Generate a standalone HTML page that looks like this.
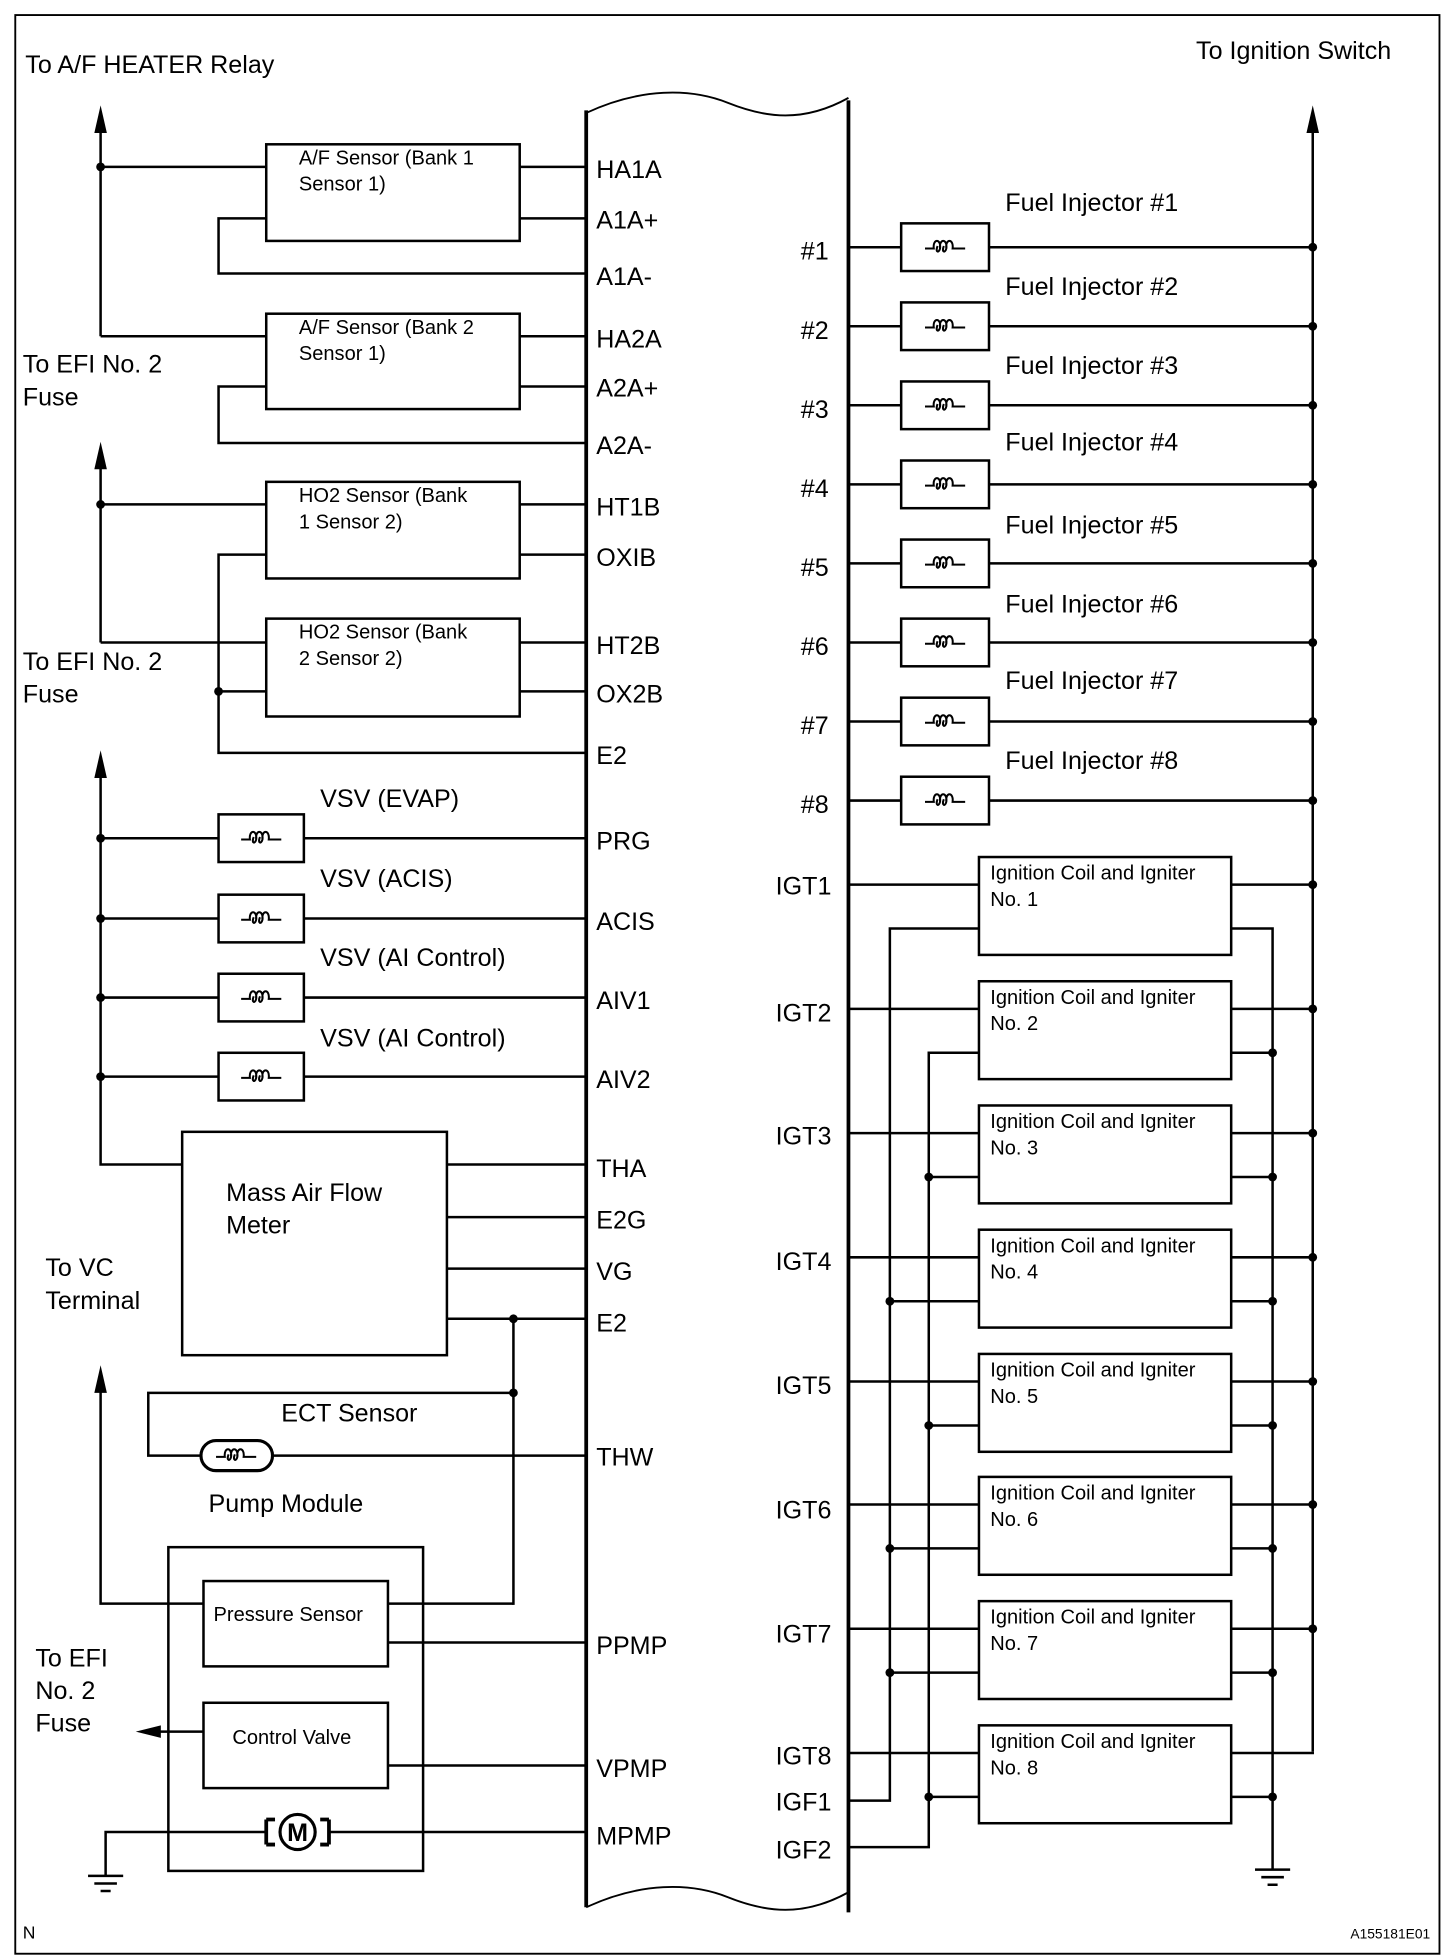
<!DOCTYPE html>
<html><head><meta charset="utf-8"><style>
html,body{margin:0;padding:0;background:#fff}
svg{display:block}
text{font-family:"Liberation Sans",Arial,sans-serif;fill:#000}
.p{font-size:20px}
.s{font-size:16px}
</style></head><body>
<svg width="1456" height="1960" viewBox="0 0 1160 1562" xmlns="http://www.w3.org/2000/svg">
<defs>
<symbol id="c" overflow="visible"><path d="M-16,1 H-9 C-10,-7 -3,-7 -4,1 C-5,5 -8,4 -6,-1 M-4,1 C-5,-7 2,-7 1,1 C0,5 -3,4 -1,-1 M1,1 C0,-7 7,-7 6,1 H16" fill="none" stroke="#000" stroke-width="1.6"/></symbol>
</defs>
<g fill="none" stroke="#000" stroke-width="2">
<rect x="12" y="12" width="1135" height="1545" stroke-width="1.5"/>
<line x1="467" y1="88" x2="467" y2="1520" stroke-width="3"/>
<line x1="676" y1="80" x2="676" y2="1524" stroke-width="3"/>
<path d="M467,90 C510,70 550,70 580,82 S640,98 676,78" stroke-width="1.5"/>
<path d="M467,1520 C510,1500 550,1500 580,1512 S640,1528 676,1508" stroke-width="1.5"/>

<line x1="80" y1="100" x2="80" y2="268"/>
<rect x="212" y="115" width="202" height="77"/>
<line x1="80" y1="133" x2="212" y2="133"/><line x1="414" y1="133" x2="467" y2="133"/>
<line x1="414" y1="174" x2="467" y2="174"/>
<path d="M212,174 H174 V218 H467"/>
<rect x="212" y="250" width="202" height="76"/>
<line x1="80" y1="268" x2="212" y2="268"/><line x1="414" y1="268" x2="467" y2="268"/>
<line x1="414" y1="308" x2="467" y2="308"/>
<path d="M212,308 H174 V353 H467"/>

<line x1="80" y1="368" x2="80" y2="512"/>
<rect x="212" y="384" width="202" height="77"/>
<line x1="80" y1="402" x2="212" y2="402"/><line x1="414" y1="402" x2="467" y2="402"/>
<line x1="414" y1="442" x2="467" y2="442"/>
<path d="M212,442 H174 V600 H467"/>
<rect x="212" y="493" width="202" height="78"/>
<line x1="80" y1="512" x2="212" y2="512"/><line x1="414" y1="512" x2="467" y2="512"/>
<line x1="174" y1="551" x2="212" y2="551"/><line x1="414" y1="551" x2="467" y2="551"/>

<path d="M80,615 V928 H145"/>
<line x1="80" y1="668" x2="467" y2="668"/>
<line x1="80" y1="732" x2="467" y2="732"/>
<line x1="80" y1="795" x2="467" y2="795"/>
<line x1="80" y1="858" x2="467" y2="858"/>
<g fill="#fff">
<rect x="174" y="649" width="68" height="38"/>
<rect x="174" y="713" width="68" height="38"/>
<rect x="174" y="776" width="68" height="38"/>
<rect x="174" y="839" width="68" height="38"/>
</g>

<rect x="145" y="902" width="211" height="178"/>
<line x1="356" y1="928" x2="467" y2="928"/>
<line x1="356" y1="970" x2="467" y2="970"/>
<line x1="356" y1="1011" x2="467" y2="1011"/>
<line x1="356" y1="1051" x2="467" y2="1051"/>
<line x1="409" y1="1051" x2="409" y2="1279"/>
<path d="M409,1110 H118 V1160 H160"/>
<rect x="160" y="1148" width="57" height="24" rx="12" stroke-width="2.5"/>
<line x1="217" y1="1160" x2="467" y2="1160"/>
<path d="M80,1105 V1278 H162"/>

<rect x="134" y="1233" width="203" height="258"/>
<rect x="162" y="1260" width="147" height="68"/>
<line x1="309" y1="1278" x2="409" y2="1278"/>
<line x1="309" y1="1309" x2="467" y2="1309"/>
<rect x="162" y="1357" width="147" height="68"/>
<path d="M162,1380 H124"/>
<line x1="309" y1="1407" x2="467" y2="1407"/>
<path d="M84,1495 V1460 H212 M262,1460 H467"/>
<path d="M212,1450 V1470 M262,1450 V1470 M212,1450 H219 M212,1470 H219 M262,1450 H255 M262,1470 H255" stroke-width="3"/>
<circle cx="237" cy="1460" r="14" stroke-width="2.5"/>
<path d="M70,1495 H98 M75,1501 H93 M80,1507 H88"/>

<line x1="1046" y1="100" x2="1046" y2="1396"/>
<line x1="676" y1="197" x2="1046" y2="197"/>
<line x1="676" y1="260" x2="1046" y2="260"/>
<line x1="676" y1="323" x2="1046" y2="323"/>
<line x1="676" y1="386" x2="1046" y2="386"/>
<line x1="676" y1="449" x2="1046" y2="449"/>
<line x1="676" y1="512" x2="1046" y2="512"/>
<line x1="676" y1="575" x2="1046" y2="575"/>
<line x1="676" y1="638" x2="1046" y2="638"/>
<g fill="#fff">
<rect x="718" y="178" width="70" height="38"/>
<rect x="718" y="241" width="70" height="38"/>
<rect x="718" y="304" width="70" height="38"/>
<rect x="718" y="367" width="70" height="38"/>
<rect x="718" y="430" width="70" height="38"/>
<rect x="718" y="493" width="70" height="38"/>
<rect x="718" y="556" width="70" height="38"/>
<rect x="718" y="619" width="70" height="38"/>
</g>

<path d="M676,1435 H709 V740 H780"/>
<path d="M676,1472 H740 V839 H780"/>
<path d="M981,740 H1014 V1490"/>
<path d="M1000,1490 H1028 M1005,1496 H1023 M1010,1502 H1018"/>
<line x1="676" y1="705" x2="780" y2="705"/><line x1="981" y1="705" x2="1046" y2="705"/>
<line x1="676" y1="804" x2="780" y2="804"/><line x1="981" y1="804" x2="1046" y2="804"/>
<line x1="676" y1="903" x2="780" y2="903"/><line x1="981" y1="903" x2="1046" y2="903"/>
<line x1="676" y1="1002" x2="780" y2="1002"/><line x1="981" y1="1002" x2="1046" y2="1002"/>
<line x1="676" y1="1101" x2="780" y2="1101"/><line x1="981" y1="1101" x2="1046" y2="1101"/>
<line x1="676" y1="1199" x2="780" y2="1199"/><line x1="981" y1="1199" x2="1046" y2="1199"/>
<line x1="676" y1="1298" x2="780" y2="1298"/><line x1="981" y1="1298" x2="1046" y2="1298"/>
<path d="M676,1397 H780 M981,1397 H1046 V1396"/>
<line x1="981" y1="839" x2="1014" y2="839"/>
<line x1="740" y1="938" x2="780" y2="938"/><line x1="981" y1="938" x2="1014" y2="938"/>
<line x1="709" y1="1037" x2="780" y2="1037"/><line x1="981" y1="1037" x2="1014" y2="1037"/>
<line x1="740" y1="1136" x2="780" y2="1136"/><line x1="981" y1="1136" x2="1014" y2="1136"/>
<line x1="709" y1="1234" x2="780" y2="1234"/><line x1="981" y1="1234" x2="1014" y2="1234"/>
<line x1="709" y1="1333" x2="780" y2="1333"/><line x1="981" y1="1333" x2="1014" y2="1333"/>
<line x1="740" y1="1432" x2="780" y2="1432"/><line x1="981" y1="1432" x2="1014" y2="1432"/>
<g fill="#fff">
<rect x="780" y="683" width="201" height="78"/>
<rect x="780" y="782" width="201" height="78"/>
<rect x="780" y="881" width="201" height="78"/>
<rect x="780" y="980" width="201" height="78"/>
<rect x="780" y="1079" width="201" height="78"/>
<rect x="780" y="1177" width="201" height="78"/>
<rect x="780" y="1276" width="201" height="78"/>
<rect x="780" y="1375" width="201" height="78"/>
</g>
</g>

<!-- arrowheads -->
<g fill="#000">
<polygon points="80,84 75,106 85,106"/>
<polygon points="80,352 75,374 85,374"/>
<polygon points="80,598 75,620 85,620"/>
<polygon points="80,1088 75,1110 85,1110"/>
<polygon points="1046,84 1041,106 1051,106"/>
<polygon points="108,1380 128,1375 128,1385"/>
</g>

<!-- coils -->
<use href="#c" x="208" y="668"/><use href="#c" x="208" y="732"/><use href="#c" x="208" y="795"/><use href="#c" x="208" y="858"/>
<use href="#c" x="188" y="1160"/>
<use href="#c" x="753" y="197"/><use href="#c" x="753" y="260"/><use href="#c" x="753" y="323"/><use href="#c" x="753" y="386"/>
<use href="#c" x="753" y="449"/><use href="#c" x="753" y="512"/><use href="#c" x="753" y="575"/><use href="#c" x="753" y="638"/>
<text x="237" y="1467" font-size="20" text-anchor="middle" font-weight="bold">M</text>

<g fill="#000">
<circle cx="80" cy="133" r="3.5"/><circle cx="80" cy="402" r="3.5"/><circle cx="174" cy="551" r="3.5"/>
<circle cx="80" cy="668" r="3.5"/><circle cx="80" cy="732" r="3.5"/><circle cx="80" cy="795" r="3.5"/><circle cx="80" cy="858" r="3.5"/>
<circle cx="409" cy="1051" r="3.5"/><circle cx="409" cy="1110" r="3.5"/>
<circle cx="1046" cy="197" r="3.5"/><circle cx="1046" cy="260" r="3.5"/><circle cx="1046" cy="323" r="3.5"/><circle cx="1046" cy="386" r="3.5"/>
<circle cx="1046" cy="449" r="3.5"/><circle cx="1046" cy="512" r="3.5"/><circle cx="1046" cy="575" r="3.5"/><circle cx="1046" cy="638" r="3.5"/>
<circle cx="1046" cy="705" r="3.5"/><circle cx="1046" cy="804" r="3.5"/><circle cx="1046" cy="903" r="3.5"/><circle cx="1046" cy="1002" r="3.5"/>
<circle cx="1046" cy="1101" r="3.5"/><circle cx="1046" cy="1199" r="3.5"/><circle cx="1046" cy="1298" r="3.5"/>
<circle cx="1014" cy="839" r="3.5"/><circle cx="1014" cy="938" r="3.5"/><circle cx="1014" cy="1037" r="3.5"/><circle cx="1014" cy="1136" r="3.5"/>
<circle cx="1014" cy="1234" r="3.5"/><circle cx="1014" cy="1333" r="3.5"/><circle cx="1014" cy="1432" r="3.5"/>
<circle cx="740" cy="938" r="3.5"/><circle cx="740" cy="1136" r="3.5"/><circle cx="740" cy="1432" r="3.5"/>
<circle cx="709" cy="1037" r="3.5"/><circle cx="709" cy="1234" r="3.5"/><circle cx="709" cy="1333" r="3.5"/>
</g>

<g class="p">
<text x="20" y="58">To A/F HEATER Relay</text>
<text x="953" y="47">To Ignition Switch</text>
<text x="18" y="297">To EFI No. 2</text><text x="18" y="323">Fuse</text>
<text x="18" y="534">To EFI No. 2</text><text x="18" y="560">Fuse</text>
<text x="36" y="1017">To VC</text><text x="36" y="1043">Terminal</text>
<text x="28" y="1328">To EFI</text><text x="28" y="1354">No. 2</text><text x="28" y="1380">Fuse</text>
<text x="255" y="643">VSV (EVAP)</text><text x="255" y="707">VSV (ACIS)</text>
<text x="255" y="770">VSV (AI Control)</text><text x="255" y="834">VSV (AI Control)</text>
<text x="180" y="957">Mass Air Flow</text><text x="180" y="983">Meter</text>
<text x="224" y="1133">ECT Sensor</text><text x="166" y="1205">Pump Module</text>
<text x="475" y="142">HA1A</text><text x="475" y="182">A1A+</text><text x="475" y="227">A1A-</text>
<text x="475" y="277">HA2A</text><text x="475" y="316">A2A+</text><text x="475" y="362">A2A-</text>
<text x="475" y="411">HT1B</text><text x="475" y="451">OXIB</text><text x="475" y="521">HT2B</text>
<text x="475" y="560">OX2B</text><text x="475" y="609">E2</text>
<text x="475" y="677">PRG</text><text x="475" y="741">ACIS</text><text x="475" y="804">AIV1</text><text x="475" y="867">AIV2</text>
<text x="475" y="938">THA</text><text x="475" y="979">E2G</text><text x="475" y="1020">VG</text><text x="475" y="1061">E2</text>
<text x="475" y="1168">THW</text><text x="475" y="1318">PPMP</text><text x="475" y="1416">VPMP</text><text x="475" y="1470">MPMP</text>
<text x="638" y="207">#1</text><text x="638" y="270">#2</text><text x="638" y="333">#3</text><text x="638" y="396">#4</text>
<text x="638" y="459">#5</text><text x="638" y="522">#6</text><text x="638" y="585">#7</text><text x="638" y="648">#8</text>
<text x="801" y="168">Fuel Injector #1</text><text x="801" y="235">Fuel Injector #2</text>
<text x="801" y="298">Fuel Injector #3</text><text x="801" y="359">Fuel Injector #4</text>
<text x="801" y="425">Fuel Injector #5</text><text x="801" y="488">Fuel Injector #6</text>
<text x="801" y="549">Fuel Injector #7</text><text x="801" y="613">Fuel Injector #8</text>
<text x="618" y="713">IGT1</text><text x="618" y="814">IGT2</text><text x="618" y="912">IGT3</text><text x="618" y="1012">IGT4</text>
<text x="618" y="1111">IGT5</text><text x="618" y="1210">IGT6</text><text x="618" y="1309">IGT7</text><text x="618" y="1406">IGT8</text>
<text x="618" y="1443">IGF1</text><text x="618" y="1481">IGF2</text>
</g>
<g class="s">
<text x="238" y="131">A/F Sensor (Bank 1</text><text x="238" y="152">Sensor 1)</text>
<text x="238" y="266">A/F Sensor (Bank 2</text><text x="238" y="287">Sensor 1)</text>
<text x="238" y="400">HO2 Sensor (Bank</text><text x="238" y="421">1 Sensor 2)</text>
<text x="238" y="509">HO2 Sensor (Bank</text><text x="238" y="530">2 Sensor 2)</text>
<text x="170" y="1292">Pressure Sensor</text><text x="185" y="1390">Control Valve</text>
<text x="789" y="701">Ignition Coil and Igniter</text><text x="789" y="722">No. 1</text>
<text x="789" y="800">Ignition Coil and Igniter</text><text x="789" y="821">No. 2</text>
<text x="789" y="899">Ignition Coil and Igniter</text><text x="789" y="920">No. 3</text>
<text x="789" y="998">Ignition Coil and Igniter</text><text x="789" y="1019">No. 4</text>
<text x="789" y="1097">Ignition Coil and Igniter</text><text x="789" y="1118">No. 5</text>
<text x="789" y="1195">Ignition Coil and Igniter</text><text x="789" y="1216">No. 6</text>
<text x="789" y="1294">Ignition Coil and Igniter</text><text x="789" y="1315">No. 7</text>
<text x="789" y="1393">Ignition Coil and Igniter</text><text x="789" y="1414">No. 8</text>
</g>
<text x="18" y="1545" font-size="14">N</text>
<text x="1076" y="1545" font-size="11">A155181E01</text>
</svg>
</body></html>
